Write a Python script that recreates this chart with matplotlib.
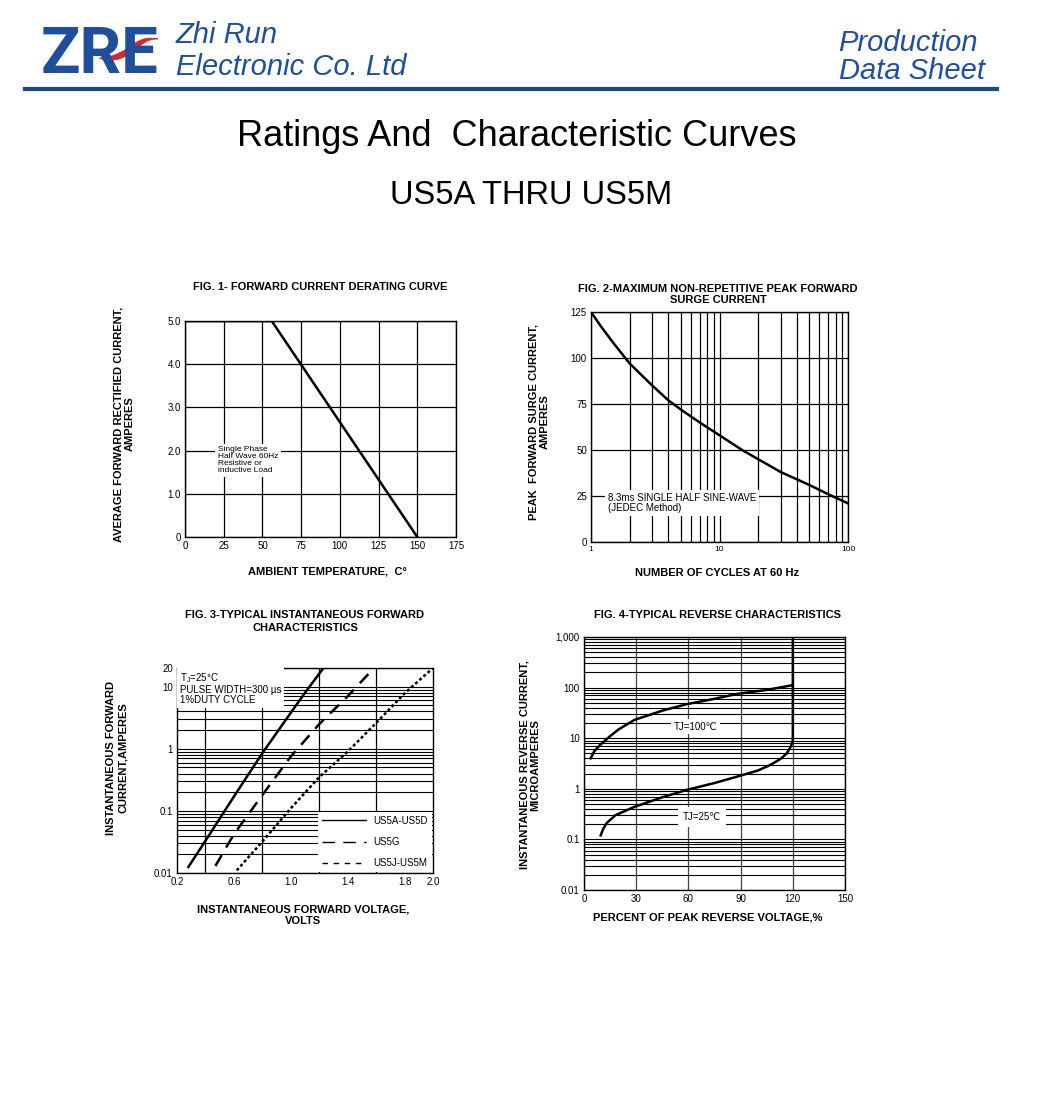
import numpy as np
import matplotlib
matplotlib.use("Agg")
import matplotlib.pyplot as plt
from matplotlib.ticker import FixedLocator, FixedFormatter, LogLocator, NullFormatter
from matplotlib.patches import PathPatch
from matplotlib.path import Path
from matplotlib.lines import Line2D

plt.rcParams["font.family"] = ["Liberation Sans", "DejaVu Sans"]

W, H = 1040, 1117
BLUE = "#1f4f9c"
RED = "#d8262e"

# ---- data ----
# fig 1 derating curve
temp_c = [0, 56, 150]
avg_current = [5.0, 5.0, 0.0]
fig1_xticks = [0, 25, 50, 75, 100, 125, 150, 175]
fig1_yticks = [0, 1.0, 2.0, 3.0, 4.0, 5.0]
fig1_ylabels = ["0", "1.0", "2.0", "3.0", "4.0", "5.0"]

# fig 2 surge current
cycles = [1, 1.2, 1.5, 2, 3, 4, 5, 7, 10, 15, 20, 30, 50, 70, 100]
surge_amps = [125, 117, 108, 97, 85, 77, 72, 65, 58, 50, 45, 38, 31, 26, 21]
fig2_yticks = [0, 25, 50, 75, 100, 125]

# fig 3 forward characteristics
vf_ad = [0.28, 0.4, 0.6, 0.8, 1.0, 1.1, 1.23]
if_ad = [0.0125, 0.033, 0.17, 0.85, 3.8, 8.0, 20]
vf_g = [0.47, 0.6, 0.8, 1.0, 1.2, 1.4, 1.585]
if_g = [0.013, 0.042, 0.18, 0.75, 2.5, 7.0, 20]
vf_jm = [0.62, 0.8, 1.0, 1.2, 1.4, 1.6, 1.8, 2.0]
if_jm = [0.011, 0.032, 0.11, 0.35, 0.9, 2.6, 7.8, 20]
fig3_xticks = [0.2, 0.6, 1.0, 1.4, 1.8, 2.0]
fig3_xgrid = [0.4, 0.6, 0.8, 1.0, 1.2, 1.4, 1.6, 1.8]
fig3_yticks = [0.01, 0.1, 1, 10, 20]
fig3_ylabels = ["0.01", "0.1", "1", "10", "20"]

# fig 4 reverse characteristics
pct_100 = [3.8, 6, 9.2, 15, 20, 29, 45, 59, 75, 88, 105, 120]
ir_100 = [4.0, 5.6, 7.3, 11, 15, 23, 35, 47, 60, 75, 90, 112]
pct_25 = [9.6, 11, 13, 18, 29, 45, 59, 75, 88, 100, 107, 113, 116.5, 119, 120, 120]
ir_25 = [0.12, 0.16, 0.21, 0.3, 0.44, 0.68, 0.95, 1.3, 1.74, 2.3, 2.95, 3.9, 5.0, 7.0, 9.0, 1000]
fig4_xticks = [0, 30, 60, 90, 120, 150]
fig4_yticks = [0.01, 0.1, 1, 10, 100, 1000]
fig4_ylabels = ["0.01", "0.1", "1", "10", "100", "1,000"]


def fx(px):
    return px / W


def fy(py):
    return 1 - py / H


def rect(x0, y0, x1, y1):
    return [x0 / W, 1 - y1 / H, (x1 - x0) / W, (y1 - y0) / H]


def style_axes(ax, size=7):
    for s in ax.spines.values():
        s.set_linewidth(1.0)
        s.set_color("black")
    ax.tick_params(which="both", length=0, labelsize=size, pad=3)
    ax.set_axisbelow(True)


fig = plt.figure(figsize=(W / 100, H / 100), dpi=100)

# ---- header ----
fig.text(fx(41), fy(73), "ZRE", fontsize=47, fontweight="bold", color=BLUE,
         family=["Roboto", "Liberation Sans"], va="baseline")
swoosh = Path(
    [(fx(99), fy(58)),
     (fx(115), fy(65)), (fx(130), fy(55)), (fx(140), fy(46)),
     (fx(147), fy(40)), (fx(152), fy(39)), (fx(158), fy(39)),
     (fx(150), fy(37)), (fx(143), fy(38)), (fx(135), fy(43)),
     (fx(125), fy(51)), (fx(112), fy(58)), (fx(99), fy(58)),
     (fx(99), fy(58))],
    [Path.MOVETO,
     Path.CURVE4, Path.CURVE4, Path.CURVE4,
     Path.CURVE4, Path.CURVE4, Path.CURVE4,
     Path.CURVE4, Path.CURVE4, Path.CURVE4,
     Path.CURVE4, Path.CURVE4, Path.CURVE4,
     Path.CLOSEPOLY])
fig.add_artist(PathPatch(swoosh, facecolor=RED, edgecolor=RED, lw=0.5,
                         transform=fig.transFigure))
fig.text(fx(176), fy(43), "Zhi Run", fontsize=21, style="italic", color=BLUE,
         va="baseline")
fig.text(fx(176), fy(75), "Electronic Co. Ltd", fontsize=21, style="italic", color=BLUE,
         va="baseline")
fig.text(fx(978), fy(51), "Production", fontsize=21, style="italic", color=BLUE,
         va="baseline", ha="right")
fig.text(fx(985), fy(79), "Data Sheet", fontsize=21, style="italic", color=BLUE,
         va="baseline", ha="right")
fig.add_artist(Line2D([fx(25), fx(997)], [fy(89), fy(89)], color="#1a4a84", lw=3,
                      transform=fig.transFigure))

fig.text(fx(517), fy(137), "Ratings And  Characteristic Curves", fontsize=26,
         ha="center", va="center")
fig.text(fx(531), fy(195), "US5A THRU US5M", fontsize=23.5, ha="center", va="center")

TITLE = dict(fontsize=8, fontweight="bold", ha="center", va="center")
LABEL = dict(fontsize=8, fontweight="bold", ha="center", va="center", multialignment="center")

# ---- FIG 1 ----
ax1 = fig.add_axes(rect(185, 321, 456, 537))
style_axes(ax1)
ax1.plot(temp_c, avg_current, color="black", lw=1.8, zorder=4)
ax1.set_xlim(0, 175)
ax1.set_ylim(0, 5.0)
ax1.xaxis.set_major_locator(FixedLocator(fig1_xticks))
ax1.yaxis.set_major_locator(FixedLocator(fig1_yticks))
ax1.yaxis.set_major_formatter(FixedFormatter(fig1_ylabels))
ax1.grid(True, color="black", lw=0.9)
ax1.text(0.12, 0.42, "Single Phase\nHalf Wave 60Hz\nResistive or\ninductive Load",
         transform=ax1.transAxes, fontsize=6, va="top", ha="left", linespacing=1.0, zorder=3,
         bbox=dict(facecolor="white", edgecolor="none", pad=2))
fig.text(fx(320), fy(287), "FIG. 1- FORWARD CURRENT DERATING CURVE", **TITLE)
fig.text(fx(124), fy(424), "AVERAGE FORWARD RECTIFIED CURRENT,\nAMPERES", rotation=90,
         linespacing=1.15, **LABEL)
fig.text(fx(327), fy(572), "AMBIENT TEMPERATURE,  C\u00b0", **LABEL)

# ---- FIG 2 ----
ax2 = fig.add_axes(rect(591, 312, 848, 542))
style_axes(ax2)
ax2.set_xscale("log")
ax2.plot(cycles, surge_amps, color="black", lw=1.8, zorder=4)
ax2.set_xlim(1, 100)
ax2.set_ylim(0, 125)
ax2.xaxis.set_major_locator(FixedLocator([1, 10, 100]))
ax2.xaxis.set_major_formatter(FixedFormatter(["1", "10", "100"]))
ax2.xaxis.set_minor_locator(LogLocator(base=10, subs=np.arange(2, 10)))
ax2.xaxis.set_minor_formatter(NullFormatter())
ax2.yaxis.set_major_locator(FixedLocator(fig2_yticks))
ax2.tick_params(axis="x", labelsize=6)
ax2.grid(True, which="both", color="black", lw=0.9)
ax2.text(0.066, 0.215, "8.3ms SINGLE HALF SINE-WAVE\n(JEDEC Method)",
         transform=ax2.transAxes, fontsize=7, va="top", ha="left", linespacing=1.1, zorder=3,
         bbox=dict(facecolor="white", edgecolor="none", pad=2))
fig.text(fx(718), fy(289), "FIG. 2-MAXIMUM NON-REPETITIVE PEAK FORWARD", **TITLE)
fig.text(fx(718), fy(300), "SURGE CURRENT", **TITLE)
fig.text(fx(539), fy(422), "PEAK  FORWARD SURGE CURRENT,\nAMPERES", rotation=90,
         linespacing=1.15, **LABEL)
fig.text(fx(717), fy(573), "NUMBER OF CYCLES AT 60 Hz", **LABEL)

# ---- FIG 3 ----
ax3 = fig.add_axes(rect(177, 668, 433, 873))
style_axes(ax3)
ax3.set_yscale("log")
ax3.plot(vf_ad, if_ad, color="black", lw=1.8, ls="-", label="US5A-US5D", zorder=4)
ax3.plot(vf_g, if_g, color="black", lw=1.8, ls=(0, (5, 3.5)), label="US5G", zorder=4)
ax3.plot(vf_jm, if_jm, color="black", lw=1.8, ls=(0, (1.2, 1.0)), label="US5J-US5M", zorder=4)
ax3.set_xlim(0.2, 2.0)
ax3.set_ylim(0.01, 20)
ax3.xaxis.set_major_locator(FixedLocator(fig3_xticks))
ax3.xaxis.set_minor_locator(FixedLocator(fig3_xgrid))
ax3.yaxis.set_major_locator(FixedLocator(fig3_yticks))
ax3.yaxis.set_major_formatter(FixedFormatter(fig3_ylabels))
ax3.yaxis.set_minor_locator(LogLocator(base=10, subs=np.arange(2, 10)))
ax3.yaxis.set_minor_formatter(NullFormatter())
ax3.grid(True, axis="y", which="both", color="black", lw=0.8)
ax3.grid(True, axis="x", which="minor", color="black", lw=0.9)
ax3.text(0.012, 0.985, "T$_\\mathregular{J}$=25\u00b0C\nPULSE WIDTH=300 \u00b5s\n1%DUTY CYCLE",
         transform=ax3.transAxes, fontsize=7, va="top", ha="left", linespacing=1.0, zorder=3,
         bbox=dict(facecolor="white", edgecolor="none", pad=2))
leg = ax3.legend(loc="lower right", fontsize=7, frameon=True, framealpha=1, facecolor="white",
                 edgecolor="none", fancybox=False, handlelength=4.5, borderaxespad=0.1,
                 labelspacing=1.15)
leg.set_zorder(5)
leg_lines = leg.get_lines()
for ln in leg_lines:
    ln.set_linewidth(1.0)
leg_lines[1].set_dashes([9, 6])
leg_lines[2].set_dashes([4, 4])
fig.text(fx(305), fy(615), "FIG. 3-TYPICAL INSTANTANEOUS FORWARD", **TITLE)
fig.text(fx(305), fy(628), "CHARACTERISTICS", **TITLE)
fig.text(fx(117), fy(758), "INSTANTANEOUS FORWARD\nCURRENT,AMPERES", rotation=90,
         linespacing=1.15, **LABEL)
fig.text(fx(303), fy(910), "INSTANTANEOUS FORWARD VOLTAGE,", **LABEL)
fig.text(fx(303), fy(921), "VOLTS", **LABEL)

# ---- FIG 4 ----
ax4 = fig.add_axes(rect(584, 637, 845, 890))
style_axes(ax4)
ax4.set_yscale("log")
ax4.plot(pct_100, ir_100, color="black", lw=1.8, zorder=4)
ax4.plot(pct_25, ir_25, color="black", lw=1.8, zorder=4)
ax4.set_xlim(0, 150)
ax4.set_ylim(0.01, 1000)
ax4.xaxis.set_major_locator(FixedLocator(fig4_xticks))
ax4.yaxis.set_major_locator(FixedLocator(fig4_yticks))
ax4.yaxis.set_major_formatter(FixedFormatter(fig4_ylabels))
ax4.yaxis.set_minor_locator(LogLocator(base=10, subs=np.arange(2, 10)))
ax4.yaxis.set_minor_formatter(NullFormatter())
ax4.grid(True, axis="y", which="both", color="black", lw=0.8)
ax4.grid(True, axis="x", which="major", color="#444444", lw=0.9)
ax4.text(64, 17, "TJ=100\u2103", fontsize=7, ha="center", va="center", zorder=3,
         bbox=dict(facecolor="white", edgecolor="none", pad=2))
ax4.text(68, 0.28, "TJ=25\u2103", fontsize=7, ha="center", va="center", zorder=3,
         bbox=dict(facecolor="white", edgecolor="none", pad=3.5))
fig.text(fx(718), fy(615), "FIG. 4-TYPICAL REVERSE CHARACTERISTICS", **TITLE)
fig.text(fx(530), fy(765), "INSTANTANEOUS REVERSE CURRENT,\nMICROAMPERES", rotation=90,
         linespacing=1.15, **LABEL)
fig.text(fx(708), fy(918), "PERCENT OF PEAK REVERSE VOLTAGE,%", **LABEL)

fig.savefig("out.png", dpi=100)
